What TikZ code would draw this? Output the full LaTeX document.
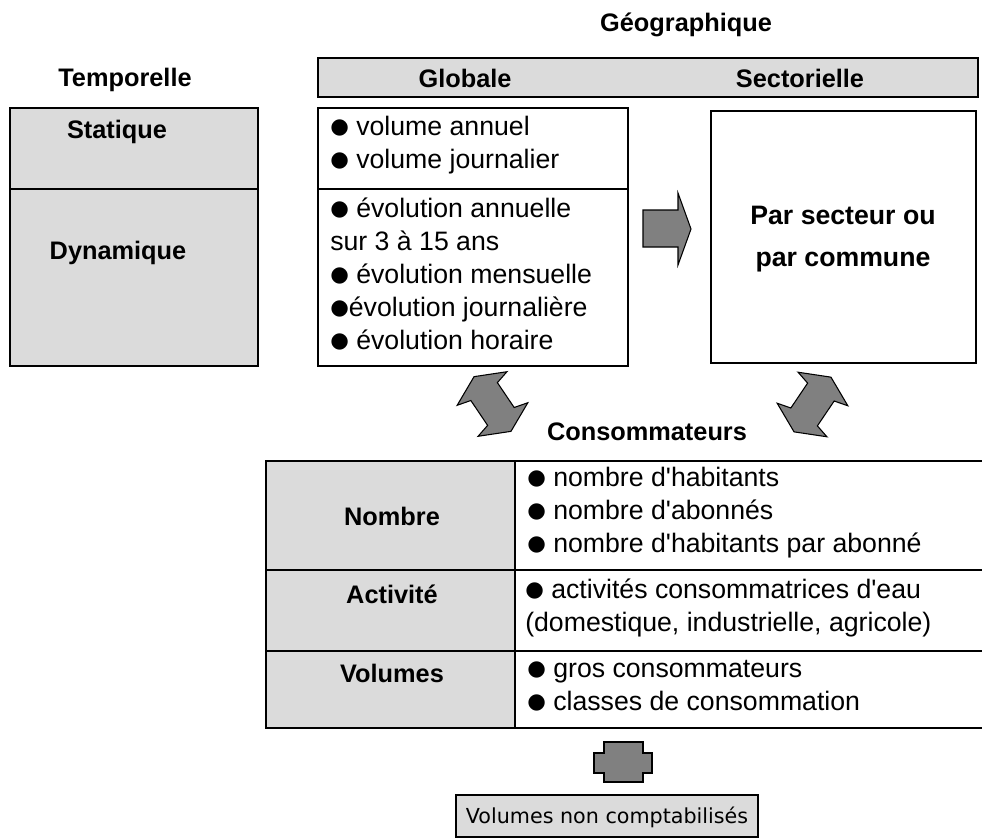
\documentclass[tikz,border=0pt]{standalone}
\usepackage{fontspec}
\setmainfont{Liberation Sans}[Ligatures=TeXOff]
\newfontfamily\dejavu{DejaVu Sans}[Ligatures=TeXOff]
\newcommand{\bul}{{\dejavu\fontsize{16}{16}\selectfont\raisebox{0.8pt}{●}}}

\begin{document}
\begin{tikzpicture}[
  x=0.75pt, y=-0.75pt,
  every node/.style={inner sep=0pt},
  hdr/.style={font=\fontsize{19}{23}\selectfont\bfseries},
  item/.style={anchor=base west, align=left, font=\fontsize{20}{24.75}\selectfont},
  shadebox/.style={draw, line width=1.2pt, fill=gray!28},
  plainbox/.style={draw, line width=1.2pt},
  sepline/.style={line width=1.2pt},
  blockarrow/.style={draw, line width=0.8pt, fill=gray, line join=miter},
  pics/dblarrow/.style={code={
    \path[blockarrow] (33,0) -- (18.7,30) -- (15,16) -- (-15,16) -- (-18.7,30)
      -- (-33,0) -- (-18.7,-30) -- (-15,-16) -- (15,-16) -- (18.7,-30) -- cycle;}}
]
  \useasboundingbox (0,0) rectangle (982,839);

  % temporelle
  \node[hdr] (temp) at (125,80) {Temporelle};
  \draw[shadebox] (10,108) rectangle (258,366);
  \draw[sepline] (10,189) -- (258,189);
  \node[hdr] (stat) at (117,132) {Statique};
  \node[hdr] (dyn) at (118,253) {Dynamique};

  % geographique
  \node[hdr] (geo) at (686,25) {Géographique};
  \draw[shadebox] (318,58) rectangle (978,97);
  \node[hdr] (glob) at (465,78) {Globale};
  \node[hdr] (sect) at (800,78) {Sectorielle};

  % (base = last line of each block)
  \draw[plainbox] (318,108) rectangle (628,366);
  \draw[sepline] (318,189) -- (628,189);
  \node[item] (vol) at (330,168) {\bul{} volume annuel\\\bul{} volume journalier};
  \node[item] (evol) at (330,349)
    {\bul{} évolution annuelle\\sur 3 à 15 ans\\\bul{} évolution mensuelle\\\bul évolution journalière\\\bul{} évolution horaire};

  \draw[blockarrow] (643,210) -- (678,210) -- (678,193) -- (691,229) -- (678,265)
    -- (678,247) -- (643,247) -- cycle;

  \draw[plainbox] (711,111) rectangle (976,363);
  \node[hdr, align=center, font=\fontsize{20}{31.5}\selectfont\bfseries] (parsect) at (843,239)
    {Par secteur ou\\par commune};

  % consommateurs
  \pic[rotate=124] (arrl) at (492.5,404) {dblarrow};
  \pic[rotate=56] (arrr) at (812.5,404.5) {dblarrow};
  \node[hdr] (cons) at (647,432) {Consommateurs};

  \draw[shadebox] (266,461) rectangle (515,728);
  \draw[sepline] (515,461) -- (982,461) (515,728) -- (982,728)
    (266,570) -- (982,570) (266,651) -- (982,651);
  \node[hdr] (nomb) at (392,516) {Nombre};
  \node[hdr] (activ) at (392,594) {Activité};
  \node[hdr] (volu) at (392,673) {Volumes};
  \node[item] (nombitems) at (527,552)
    {\bul{} nombre d'habitants\\\bul{} nombre d'abonnés\\\bul{} nombre d'habitants par abonné};
  \node[item] (activitems) at (525,631)
    {\bul{} activités consommatrices d'eau\\(domestique, industrielle, agricole)};
  \node[item] (voluitems) at (527,710)
    {\bul{} gros consommateurs\\\bul{} classes de consommation};

  % non comptabilises
  \draw[blockarrow] (604,742) -- (643,742) -- (643,753) -- (652,753) -- (652,773)
    -- (643,773) -- (643,782) -- (604,782) -- (604,773) -- (594,773) -- (594,753)
    -- (604,753) -- cycle;
  \draw[shadebox, line width=1pt] (456,795) rectangle (758,837);
  \node[font=\dejavu\fontsize{15.5}{18}\selectfont] (noncompt) at (607,817)
    {Volumes non comptabilisés};
\end{tikzpicture}
\end{document}
